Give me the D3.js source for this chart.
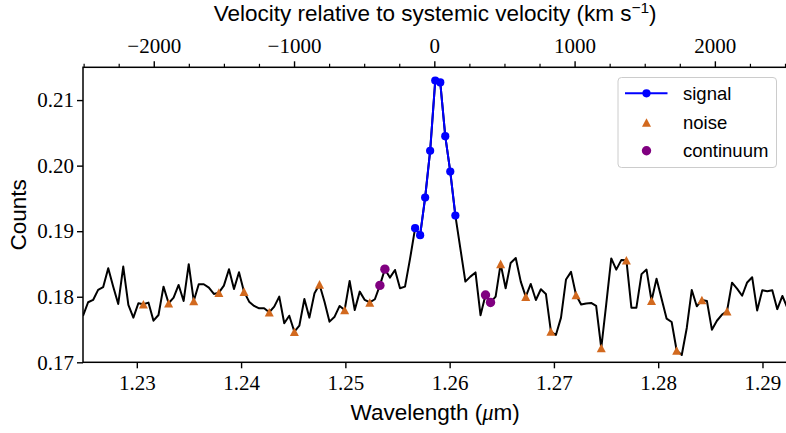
<!DOCTYPE html>
<html>
<head>
<meta charset="utf-8">
<script src="https://cdn.jsdelivr.net/npm/d3@7"></script>
<style>
  body { margin: 0; background: #fff; }
</style>
</head>
<body>
<div id="chart"></div>
<script>
// spectrum samples
const wavelength = [
  1.22484, 1.22533, 1.22581, 1.22629, 1.22677, 1.22726, 1.22774, 1.22822, 1.22870, 1.22919,
  1.22967, 1.23015, 1.23063, 1.23112, 1.23160, 1.23208, 1.23256, 1.23305, 1.23353, 1.23401,
  1.23449, 1.23498, 1.23546, 1.23594, 1.23642, 1.23691, 1.23739, 1.23787, 1.23835, 1.23884,
  1.23932, 1.23980, 1.24028, 1.24077, 1.24125, 1.24173, 1.24221, 1.24270, 1.24318, 1.24366,
  1.24414, 1.24462, 1.24511, 1.24559, 1.24607, 1.24655, 1.24704, 1.24752, 1.24800, 1.24848,
  1.24897, 1.24945, 1.24993, 1.25041, 1.25090, 1.25138, 1.25186, 1.25234, 1.25283, 1.25331,
  1.25379, 1.25427, 1.25476, 1.25524, 1.25572, 1.25620, 1.25669, 1.25717, 1.25765, 1.25813,
  1.25862, 1.25910, 1.25958, 1.26006, 1.26055, 1.26103, 1.26151, 1.26199, 1.26248, 1.26296,
  1.26344, 1.26392, 1.26441, 1.26489, 1.26537, 1.26585, 1.26634, 1.26682, 1.26730, 1.26778,
  1.26827, 1.26875, 1.26923, 1.26971, 1.27019, 1.27068, 1.27116, 1.27164, 1.27212, 1.27261,
  1.27309, 1.27357, 1.27405, 1.27454, 1.27502, 1.27550, 1.27598, 1.27647, 1.27695, 1.27743,
  1.27791, 1.27840, 1.27888, 1.27936, 1.27984, 1.28033, 1.28081, 1.28129, 1.28177, 1.28226,
  1.28274, 1.28322, 1.28370, 1.28419, 1.28467, 1.28515, 1.28563, 1.28612, 1.28660, 1.28708,
  1.28756, 1.28805, 1.28853, 1.28901, 1.28949, 1.28998, 1.29046, 1.29094, 1.29142, 1.29191,
  1.29239
];
const counts = [
  0.17707, 0.17916, 0.17951, 0.18104, 0.18145, 0.18435, 0.18154, 0.17890, 0.18460, 0.17875,
  0.17681, 0.17901, 0.17886, 0.17910, 0.17635, 0.17722, 0.18154, 0.17901, 0.17986, 0.18180,
  0.17936, 0.18496, 0.17936, 0.18191, 0.18191, 0.18139, 0.18043, 0.18063, 0.18169, 0.18420,
  0.18119, 0.18374, 0.18078, 0.17925, 0.17860, 0.17824, 0.17824, 0.17763, 0.17849, 0.18002,
  0.17595, 0.17711, 0.17467, 0.17559, 0.17966, 0.17681, 0.18053, 0.18188, 0.17925, 0.17620,
  0.17696, 0.17860, 0.17798, 0.18241, 0.17798, 0.18078, 0.17951, 0.17913, 0.17962, 0.18173,
  0.18421, 0.18292, 0.18409, 0.18130, 0.18154, 0.18577, 0.19046, 0.18939, 0.19513, 0.20226,
  0.21299, 0.21269, 0.20450, 0.19910, 0.19238, 0.18734, 0.18231, 0.18307, 0.18371, 0.17718,
  0.18027, 0.17913, 0.18002, 0.18501, 0.18130, 0.18516, 0.18592, 0.18231, 0.18002, 0.18195,
  0.17951, 0.18115, 0.18043, 0.17470, 0.17417, 0.17681, 0.18264, 0.18379, 0.18027, 0.17882,
  0.17898, 0.17905, 0.17860, 0.17218, 0.17890, 0.18585, 0.18414, 0.18562, 0.18557, 0.17834,
  0.17834, 0.18345, 0.18414, 0.17939, 0.18276, 0.17966, 0.17666, 0.17615, 0.17180, 0.17111,
  0.17524, 0.18104, 0.17855, 0.17951, 0.17936, 0.17498, 0.17634, 0.17727, 0.17779, 0.18215,
  0.18124, 0.18015, 0.18218, 0.18298, 0.17791, 0.18099, 0.18084, 0.18099, 0.17811, 0.18012,
  0.17829
];

// which samples are marked as what
const signalIdx = [66, 67, 68, 69, 70, 71, 72, 73, 74];
const noiseIdx = [12, 17, 22, 27, 32, 37, 42, 47, 52, 57, 83, 88, 93, 98, 103, 108, 113, 118, 123, 128];
const continuumIdx = [59, 60, 80, 81];

const xTicks = [1.23, 1.24, 1.25, 1.26, 1.27, 1.28, 1.29];
const yTicks = [0.17, 0.18, 0.19, 0.20, 0.21];
const velTicks = [-2000, -1000, 0, 1000, 2000];
const velMinor = [-2500, -2250, -1750, -1500, -1250, -750, -500, -250, 250, 500, 750, 1250, 1500, 1750, 2250, 2500];
const legendLabels = ['signal', 'noise', 'continuum'];

// top axis conversion
const lam0 = 1.25853;
const kmsPerMicron = 74338;
const toVel = lam => (lam - lam0) * kmsPerMicron;

const W = 786, H = 433;
const pLeft = 83, pRight = 787.4, pTop = 67.3, pBottom = 362.3;
const serif = "'Liberation Serif', 'DejaVu Serif', serif";
const sans = "'Liberation Sans', 'DejaVu Sans', sans-serif";

const svg = d3.select('#chart').append('svg')
  .attr('width', W)
  .attr('height', H);

const x = d3.scaleLinear()
  .domain([wavelength[0], wavelength[wavelength.length - 1]])
  .range([pLeft, pRight]);
const y = d3.scaleLinear().domain([0.17, 0.215]).range([pBottom, pTop]);
const v = d3.scaleLinear()
  .domain([toVel(x.domain()[0]), toVel(x.domain()[1])])
  .range([pLeft, pRight]);

const pts = wavelength.map((w, i) => ({ w: w, c: counts[i] }));

svg.append('clipPath').attr('id', 'clip')
  .append('rect')
  .attr('x', pLeft).attr('y', pTop)
  .attr('width', pRight - pLeft).attr('height', pBottom - pTop);

const plot = svg.append('g').attr('clip-path', 'url(#clip)');

const line = d3.line()
  .x(d => x(d.w))
  .y(d => y(d.c));

// full spectrum
plot.append('path')
  .datum(pts)
  .attr('fill', 'none')
  .attr('stroke', '#000')
  .attr('stroke-width', 2)
  .attr('stroke-linejoin', 'round')
  .attr('d', line);

// signal line + dots
const sig = signalIdx.map(i => pts[i]);
plot.append('path')
  .datum(sig)
  .attr('fill', 'none')
  .attr('stroke', 'blue')
  .attr('stroke-width', 2)
  .attr('stroke-linejoin', 'round')
  .attr('d', line);
plot.selectAll('.sig')
  .data(sig)
  .enter().append('circle')
  .attr('cx', d => x(d.w))
  .attr('cy', d => y(d.c))
  .attr('r', 4.1)
  .attr('fill', 'blue');

// noise triangles
const tri = 'M0,-4.3L4.5,4.3L-4.5,4.3Z';
plot.selectAll('.noise')
  .data(noiseIdx.map(i => pts[i]))
  .enter().append('path')
  .attr('d', tri)
  .attr('transform', d => `translate(${x(d.w)},${y(d.c)})`)
  .attr('fill', 'chocolate');

// continuum dots
plot.selectAll('.cont')
  .data(continuumIdx.map(i => pts[i]))
  .enter().append('circle')
  .attr('cx', d => x(d.w))
  .attr('cy', d => y(d.c))
  .attr('r', 4.7)
  .attr('fill', 'purple');

// frame
svg.append('rect')
  .attr('x', pLeft).attr('y', pTop)
  .attr('width', pRight - pLeft).attr('height', pBottom - pTop)
  .attr('fill', 'none')
  .attr('stroke', '#000')
  .attr('stroke-width', 1.5);

// bottom axis
const gx = svg.append('g')
  .attr('transform', `translate(0,${pBottom})`)
  .call(d3.axisBottom(x).tickValues(xTicks).tickFormat(d3.format('.2f')).tickSize(6).tickSizeOuter(0));
gx.select('.domain').remove();
gx.selectAll('line').attr('stroke-width', 1.4);
gx.selectAll('text')
  .attr('y', 28).attr('dy', 0)
  .attr('font-family', serif).attr('font-size', 21).attr('fill', '#000');

// left axis
const gy = svg.append('g')
  .attr('transform', `translate(${pLeft},0)`)
  .call(d3.axisLeft(y).tickValues(yTicks).tickFormat(d3.format('.2f')).tickSize(6).tickPadding(3).tickSizeOuter(0));
gy.select('.domain').remove();
gy.selectAll('line').attr('stroke-width', 1.4);
gy.selectAll('text')
  .attr('font-family', serif).attr('font-size', 21).attr('fill', '#000');

// top velocity axis
const gt = svg.append('g')
  .attr('transform', `translate(0,${pTop})`)
  .call(d3.axisTop(v).tickValues(velTicks).tickFormat(d3.format('d')).tickSize(6).tickSizeOuter(0));
gt.select('.domain').remove();
gt.selectAll('line').attr('stroke-width', 1.4);
gt.selectAll('text')
  .attr('y', -14).attr('dy', 0)
  .attr('font-family', serif).attr('font-size', 21).attr('fill', '#000');

const gtm = svg.append('g')
  .attr('transform', `translate(0,${pTop})`)
  .call(d3.axisTop(v).tickValues(velMinor).tickFormat('').tickSize(3.5).tickSizeOuter(0));
gtm.select('.domain').remove();
gtm.selectAll('line').attr('stroke-width', 1.2);

// axis titles
const title = svg.append('text')
  .attr('x', (pLeft + pRight) / 2)
  .attr('y', 21)
  .attr('text-anchor', 'middle')
  .attr('font-family', sans)
  .attr('font-size', 22.5);
title.append('tspan').text('Velocity relative to systemic velocity (km s');
title.append('tspan').attr('dy', -8).attr('font-size', 15.5).text('\u22121');
title.append('tspan').attr('dy', 8).text(')');

const xl = svg.append('text')
  .attr('x', (pLeft + pRight) / 2)
  .attr('y', 420)
  .attr('text-anchor', 'middle')
  .attr('font-family', sans)
  .attr('font-size', 22.5);
xl.append('tspan').text('Wavelength (');
xl.append('tspan').attr('font-family', serif).attr('font-style', 'italic').text('\u03bc');
xl.append('tspan').text('m)');

svg.append('text')
  .attr('transform', `translate(26,${(pTop + pBottom) / 2}) rotate(-90)`)
  .attr('text-anchor', 'middle')
  .attr('font-family', sans)
  .attr('font-size', 22.5)
  .text('Counts');

// legend
const lg = svg.append('g');
lg.append('rect')
  .attr('x', 618).attr('y', 77.5)
  .attr('width', 158.5).attr('height', 90)
  .attr('rx', 3.5)
  .attr('fill', '#fff').attr('fill-opacity', 0.8)
  .attr('stroke', '#cccccc').attr('stroke-width', 1);

const rowY = [93.3, 122.5, 150.7];
lg.append('line')
  .attr('x1', 625).attr('x2', 667.5)
  .attr('y1', rowY[0]).attr('y2', rowY[0])
  .attr('stroke', 'blue').attr('stroke-width', 2);
lg.append('circle').attr('cx', 646.5).attr('cy', rowY[0]).attr('r', 4.1).attr('fill', 'blue');
lg.append('path').attr('d', tri).attr('transform', `translate(646.5,${rowY[1]})`).attr('fill', 'chocolate');
lg.append('circle').attr('cx', 646.5).attr('cy', rowY[2]).attr('r', 4.7).attr('fill', 'purple');

lg.selectAll('.lab')
  .data(legendLabels)
  .enter().append('text')
  .attr('x', 683)
  .attr('y', (d, i) => rowY[i])
  .attr('dy', '0.35em')
  .attr('font-family', sans)
  .attr('font-size', 18.5)
  .text(d => d);
</script>
</body>
</html>
